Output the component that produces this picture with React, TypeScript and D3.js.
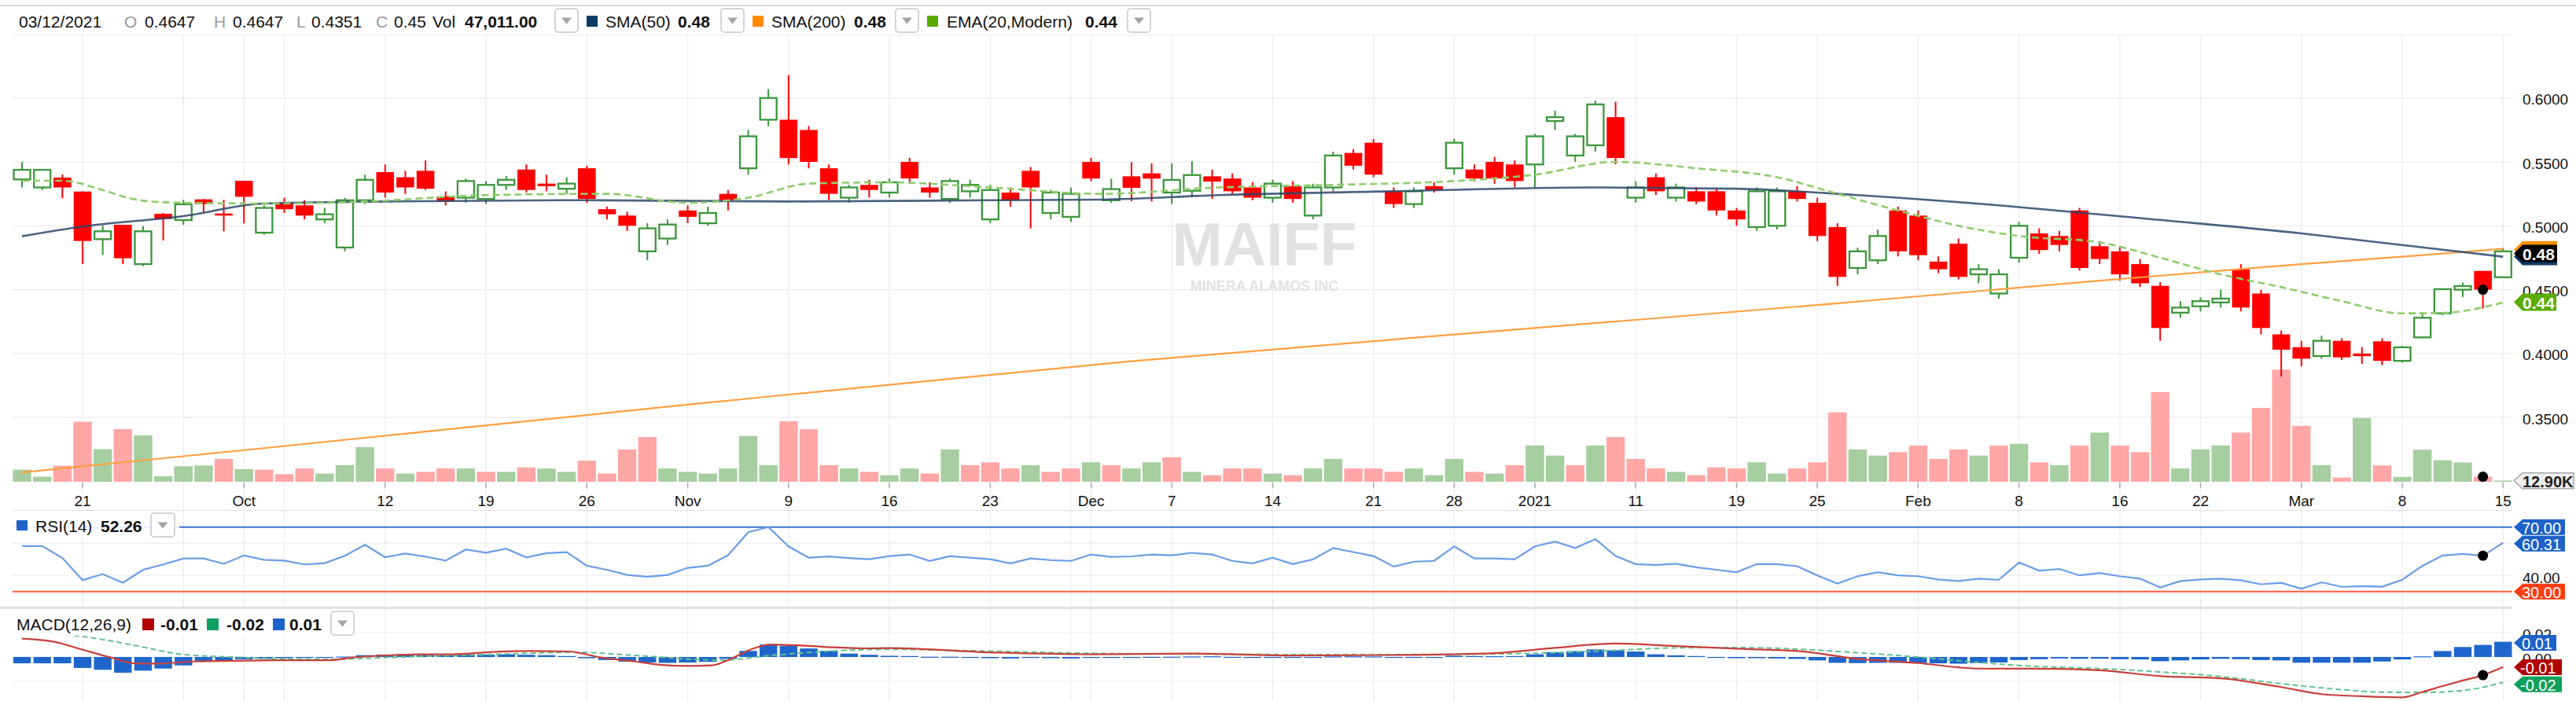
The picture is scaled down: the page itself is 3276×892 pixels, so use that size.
import React from 'react';
import * as d3 from 'd3';

// ---------------- DATA ----------------
// trading-day index: 0 = Sep 21 2020, 120 = Mar 15 2021 (first candle index -3)
const FIRST = -3;

const open = [
  .5363,.530,.5377,.5268,.4895,.5008,.470,.5094,.5045,.5207,.5096,.5352,.4946,
  .518,.516,.505,.483,.520,.542,.538,.543,.523,.522,
  .521,.532,.544,.533,.529,.545,.513,.508,.480,.490,
  .512,.502,.525,.545,.583,.583,.575,.545,.522,.532,
  .526,.550,.530,.521,.527,.505,.526,.543,.510,.507,
  .550,.520,.5387,.541,.526,.5274,.5387,.537,.530,.522,
  .531,.508,.530,.557,.565,.527,.517,.531,.545,.544,
  .550,.548,.548,.582,.555,.563,.585,.522,.538,.522,
  .527,.527,.512,.499,.500,.527,.518,.499,.467,.473,
  .512,.508,.472,.486,.462,.447,.475,.494,.492,.512,
  .484,.480,.470,.453,.432,.437,.440,.466,.447,.415,
  .405,.398,.410,.400,.4096,.3943,.4127,.4315,.450,.4647,.4597];
const high = [
  .550,.5445,.5402,.527,.5004,.5008,.4998,.510,.5203,.521,.5203,.5352,.516,
  .522,.520,.514,.522,.540,.548,.543,.551,.527,.537,
  .535,.539,.548,.540,.538,.547,.515,.511,.502,.505,
  .516,.515,.528,.575,.607,.618,.578,.548,.532,.536,
  .537,.553,.534,.537,.536,.532,.530,.546,.528,.530,
  .553,.537,.5498,.549,.549,.5504,.544,.541,.534,.536,
  .535,.533,.558,.560,.568,.530,.530,.534,.568,.548,
  .554,.551,.572,.590,.572,.598,.597,.535,.541,.533,
  .530,.529,.514,.530,.530,.531,.522,.502,.483,.497,
  .515,.512,.476,.490,.470,.466,.503,.498,.496,.514,
  .488,.484,.474,.456,.441,.444,.450,.470,.450,.418,
  .410,.414,.412,.405,.412,.406,.432,.4504,.4556,.4647,.4827];
const low = [
  .530,.528,.5217,.470,.4772,.470,.4684,.4885,.5008,.5106,.4957,.5018,.493,
  .510,.505,.502,.480,.517,.522,.525,.528,.516,.518,
  .517,.528,.526,.527,.525,.518,.505,.496,.473,.485,
  .502,.500,.512,.540,.578,.548,.545,.520,.518,.522,
  .522,.533,.522,.518,.522,.502,.515,.498,.505,.503,
  .535,.518,.5192,.519,.5172,.5227,.521,.525,.520,.518,
  .518,.505,.527,.544,.538,.514,.514,.526,.540,.535,
  .533,.530,.530,.575,.550,.558,.548,.518,.524,.519,
  .517,.508,.500,.496,.497,.519,.488,.453,.462,.470,
  .476,.473,.463,.458,.455,.443,.471,.478,.480,.465,
  .470,.457,.452,.410,.428,.433,.436,.433,.415,.382,
  .390,.396,.395,.392,.391,.393,.412,.430,.4443,.4351,.4597];
const close = [
  .5438,.5438,.530,.4881,.4957,.4746,.4957,.5053,.5168,.517,.508,.5227,.514,
  .513,.508,.509,.520,.536,.526,.530,.529,.519,.535,
  .532,.536,.528,.531,.533,.521,.509,.500,.498,.501,
  .507,.510,.520,.570,.600,.553,.550,.525,.530,.528,
  .534,.537,.526,.535,.532,.528,.520,.530,.526,.525,
  .537,.5287,.5297,.5369,.5359,.5397,.5346,.527,.522,.533,
  .521,.530,.555,.547,.540,.517,.527,.528,.565,.537,
  .537,.535,.570,.585,.570,.595,.553,.530,.527,.530,
  .519,.512,.505,.527,.527,.521,.492,.460,.480,.492,
  .480,.477,.466,.460,.466,.462,.500,.481,.485,.467,
  .474,.462,.455,.420,.436,.441,.443,.436,.420,.403,
  .396,.410,.397,.398,.3943,.4049,.428,.4504,.4528,.450,.480];

// volume, thousands of shares
const volumeK = [
  110,47,145,537,292,471,415,51,140,147,205,114,110,
  70,120,75,150,310,120,75,90,120,120,
  90,90,130,120,90,190,75,290,400,120,
  90,75,120,410,150,540,470,150,120,90,
  60,120,75,290,150,175,120,150,90,120,
  175,150,120,175,220,90,60,120,120,75,
  60,120,205,120,120,90,120,60,205,90,
  75,150,325,235,150,325,400,205,120,90,
  60,130,120,175,75,120,175,620,290,235,
  265,325,205,290,235,325,340,175,150,325,
  440,325,265,800,120,290,325,440,660,1000,
  500,150,40,570,147,45,287,193,174,47.011,12.9];

const rsi = [
  58.2,58.2,50.8,37.1,40.8,35.5,43.5,46.8,50.5,50.5,47.2,52.4,49.7,
  49.2,46.8,47.6,52.2,59.0,51.3,53.6,51.7,49.2,56.1,
  54.1,56.6,51.2,53.8,54.4,46.0,43.5,40.3,39.2,40.3,
  44.7,46.0,52.5,66.8,70.0,58.0,51.0,51.7,50.8,50.0,
  52,53,49,52,51,50,47.5,50.5,49.5,49,
  53,51.5,51.8,53,52.5,54,53,49,47.5,51,
  47,50,57,54.5,52,45.5,48.5,49,58,50.5,
  50.5,50,58,61,57,62.5,52,47,46.5,47.2,
  45,43.5,42,47,47,45.7,40,35,39.5,42,
  40,39.5,37.5,36.5,38,37.3,48,43,44,40,
  41.5,39.5,38,32.5,36.5,37.5,38,37,34.5,35.4,
  31.8,35.7,32.9,33.3,33.0,37.3,46,52.4,53.3,52.26,60.31];

const macdHist = [
  -.0052,-.0052,-.0052,-.009,-.0105,-.0129,-.0112,-.0095,-.0069,-.0037,-.0026,-.002,-.0015,
  -.001,-.0008,-.0006,.0003,.0015,.002,.0022,.0018,.0015,.0018,
  .002,.0022,.0018,.0015,.0008,-.001,-.0025,-.0038,-.0045,-.0048,
  -.0045,-.004,-.0015,.005,.0103,.0092,.007,.005,.0028,.0018,
  .001,.0008,.0002,.0002,-.0005,-.001,-.0012,-.0008,-.001,-.0012,
  -.0008,-.0005,-.0003,.0001,.0002,.0004,.0006,.0001,-.0003,-.0004,
  -.0008,-.0006,.0004,.0005,.0004,-.0004,-.0002,-.0002,.001,.0008,
  .0007,.0008,.0022,.004,.0048,.0062,.0055,.0045,.0022,.0014,
  .0008,-.0002,-.001,-.001,-.0012,-.0016,-.0028,-.0048,-.005,-.0048,
  -.0048,-.005,-.0052,-.0055,-.005,-.0045,-.0025,-.0018,-.0012,-.0015,
  -.0014,-.0018,-.002,-.0035,-.0028,-.002,-.0015,-.0018,-.0025,-.0028,
  -.0047,-.0047,-.0047,-.0047,-.0037,-.002,.0005,.0049,.0082,.0099,.0125];

// lines as [day index, value]
const macdPts = [[-3,.0151],[-1.4,.0125],[0,.006],[1.4,-.0004],[2.6,-.0052],[3.8,-.0054],[5.5,-.0037],[7.4,-.0032],[9.6,-.0026],[12.3,-.0026],[13.4,-.0004],[15.1,.0013],[16.7,.0022],[18.3,.0022],[20.5,.0043],[22.2,.0049],[24.1,.0045],[25.7,-.0004],[27.4,-.0037],[28.7,-.0065],[30.1,-.0073],[31.2,-.0069],[32,-.0026],[33.1,.006],[34.1,.0103],[35.3,.0097],[36.9,.0082],[38.8,.0071],[40,.0073],[45,.0038],[50,.0022],[55,.0028],[60,.0012],[65,.0016],[70,.0032],[73,.0075],[76,.011],[79,.0089],[82,.0068],[85,.0049],[88,-.0015],[91,-.005],[94,-.0095],[97,-.0096],[100,-.0109],[103,-.0157],[106,-.0175],[109,-.0247],[111,-.0305],[113,-.0322],[115,-.0331],[116,-.0287],[117,-.0239],[118,-.0193],[119,-.0149],[120,-.0083]];
const signalPts = [[-3,.0211],[0,.0168],[2.7,.0092],[4.9,.0022],[7.4,0],[12.3,-.0019],[15.1,-.0004],[20.5,.0022],[24.4,.0039],[27.4,.0013],[31.6,-.0026],[34.4,.0017],[38.8,.006],[40,.0063],[45,.0048],[50,.003],[55,.0024],[60,.002],[65,.002],[70,.0025],[73,.0035],[76,.0055],[79,.0075],[82,.0078],[85,.0065],[88,.0035],[91,0],[94,-.0045],[97,-.0078],[100,-.0095],[103,-.0122],[106,-.016],[109,-.0219],[112,-.0268],[114,-.0289],[116,-.029],[117,-.0288],[118,-.0275],[119,-.0248],[120,-.0208]];
const sma50Pts = [[-3,.4918],[0,.4994],[5,.5076],[9,.5174],[15,.519],[25,.520],[35,.519],[45,.520],[50.5,.5205],[56.3,.524],[65,.527],[75,.530],[82,.529],[88,.524],[95,.516],[102,.506],[110,.494],[115.5,.484],[120,.4758]];
const sma200Pts = [[-3,.307],[9,.326],[30,.360],[52,.394],[72,.420],[86,.438],[100,.457],[110,.470],[116,.477],[120,.482]];
const ema20Pts = [[-3,.5352],[-1,.5352],[1,.528],[2.4,.5213],[4,.5184],[9,.5174],[14,.519],[20,.524],[26,.525],[30,.518],[33,.522],[36,.533],[40,.534],[45,.530],[50.5,.525],[56.3,.530],[62,.532],[68,.535],[72,.540],[76,.550],[80,.545],[84,.538],[87,.525],[90,.512],[93,.500],[96,.492],[100,.487],[103,.475],[106,.462],[109,.452],[112,.441],[115,.4315],[117,.4318],[120,.440]];

const gridIdx = [0,5,8,10,15,20,25,30,35,40,45,49,50,54,59,64,68,72,77,82,86,91,96,101,105,110,115,120];
const labelIdx = [0,8,15,20,25,30,35,40,45,50,54,59,64,68,72,77,82,86,91,96,101,105,110,115,120];
const labelText = ['21','Oct','12','19','26','Nov','9','16','23','Dec','7','14','21','28','2021','11','19','25','Feb','8','16','22','Mar','8','15'];
const priceTicks = [0.35,0.40,0.45,0.50,0.55,0.60];
const rsiGrid = [60,40];
const rsiLabels = [40];
const macdGrid = [0.02,0,-0.02];
const macdLabels = [0.02,0];
const hoverIdx = 119;

// ---------------- LAYOUT ----------------
const W = 3276, H = 892;
const PL = 16, PR = 3195;
const FONT = '"Liberation Sans", Arial, Helvetica, sans-serif';
const GREEN = '#3c963c', RED = '#ff0000';

const x = d3.scaleLinear().domain([0, 120]).range([105, 3183.3]);
const y = d3.scaleLinear().domain([0.5, 0.6]).range([287.3, 124.7]);
const vy = d3.scaleLinear().domain([0, 1000]).range([613.3, 470.4]);
const ry = d3.scaleLinear().domain([30, 70]).range([752.7, 670.7]);
const my = d3.scaleLinear().domain([-0.02, 0.02]).range([867, 805]);

const anchorLine = (ys) => d3.line().x(d => x(d[0])).y(d => ys(d[1])).curve(d3.curveMonotoneX);

function Dropdown({ x0, y0, w = 29, h = 30 }) {
  const cx = x0 + w / 2, cy = y0 + h / 2;
  return (
    <g>
      <rect x={x0} y={y0} width={w} height={h} rx={4} fill="#fff" stroke="#c6c6c6" strokeWidth={1.5} />
      <polygon points={`${cx - 6.5},${cy - 3.5} ${cx + 6.5},${cy - 3.5} ${cx},${cy + 4.5}`} fill="#a3a3a3" />
    </g>
  );
}

function Badge({ cy, x1, h = 22, fill, stroke = 'none', text, color = '#fff', bold = false, fs = 20, tx = 3208 }) {
  const x0 = 3197, tip = 11;
  const pts = `${x0},${cy} ${x0 + tip},${cy - h / 2} ${x1},${cy - h / 2} ${x1},${cy + h / 2} ${x0 + tip},${cy + h / 2}`;
  return (
    <g>
      <polygon points={pts} fill={fill} stroke={stroke} strokeWidth={1.5} />
      {text ? <text x={tx} y={cy + 1} dominantBaseline="central" fontSize={fs} fontWeight={bold ? 'bold' : 'normal'} fill={color}>{text}</text> : null}
    </g>
  );
}

export default function App() {
  const days = close.map((_, k) => k + FIRST);
  const rsiLine = d3.line().x((_, k) => x(k + FIRST)).y(d => ry(d))(rsi);
  const hk = hoverIdx - FIRST;
  const macdAtHover = macdPts.find(p => p[0] === hoverIdx)[1];

  return (
    <div style={{ position: 'absolute', left: 0, top: 0, width: W, height: H, background: '#fff' }}>
      <svg width={W} height={H} style={{ display: 'block', fontFamily: FONT }}>
        <defs>
          <clipPath id="cp"><rect x={PL} y={45} width={PR - PL} height={613.3 - 45} /></clipPath>
          <clipPath id="cr"><rect x={PL} y={650} width={PR - PL} height={123} /></clipPath>
          <clipPath id="cm"><rect x={PL} y={775} width={PR - PL} height={117} /></clipPath>
        </defs>

        {/* header */}
        <line x1={0} x2={W} y1={7} y2={7} stroke="#dadada" strokeWidth={2} />
        <line x1={PL} x2={PR} y1={44.5} y2={44.5} stroke="#ececec" strokeWidth={1} />
        <g fontSize={21} dominantBaseline="central">
          <text x={24} y={27} fill="#111">03/12/2021</text>
          <text x={158} y={27} fill="#9a9a9a">O</text>
          <text x={184} y={27} fill="#111">0.4647</text>
          <text x={272} y={27} fill="#9a9a9a">H</text>
          <text x={296} y={27} fill="#111">0.4647</text>
          <text x={377} y={27} fill="#9a9a9a">L</text>
          <text x={396} y={27} fill="#111">0.4351</text>
          <text x={478} y={27} fill="#9a9a9a">C</text>
          <text x={501} y={27} fill="#111">0.45</text>
          <text x={550} y={27} fill="#111">Vol</text>
          <text x={591} y={27} fill="#111" fontWeight="bold">47,011.00</text>
          <rect x={746} y={20} width={14} height={14} fill="#0f3a64" />
          <text x={770} y={27} fill="#111">SMA(50)</text>
          <text x={862} y={27} fill="#111" fontWeight="bold">0.48</text>
          <rect x={957} y={20} width={14} height={14} fill="#ff8c00" />
          <text x={981} y={27} fill="#111">SMA(200)</text>
          <text x={1086} y={27} fill="#111" fontWeight="bold">0.48</text>
          <rect x={1179} y={20} width={14} height={14} fill="#5aaa00" />
          <text x={1204} y={27} fill="#111">EMA(20,Modern)</text>
          <text x={1380} y={27} fill="#111" fontWeight="bold">0.44</text>
        </g>
        <Dropdown x0={706} y0={11} />
        <Dropdown x0={917} y0={11} />
        <Dropdown x0={1139} y0={11} />
        <Dropdown x0={1434} y0={11} />

        {/* vertical grid */}
        {gridIdx.map(i => (
          <line key={'g' + i} x1={x(i)} x2={x(i)} y1={45} y2={H} stroke="#ececec" strokeWidth={1.2} />
        ))}
        {/* price grid */}
        {priceTicks.map(t => (
          <line key={'p' + t} x1={PL} x2={PR} y1={y(t)} y2={y(t)} stroke="#ececec" strokeWidth={1.2} />
        ))}
        {priceTicks.map(t => (
          <text key={'pl' + t} x={3208} y={y(t) + 2} dominantBaseline="central" fontSize={19} fill="#111">{d3.format('.4f')(t)}</text>
        ))}

        {/* watermark */}
        <text x={1608} y={338} textAnchor="middle" fontSize={77} fontWeight="bold" fill="#e2e2e2">MAIFF</text>
        <text x={1608} y={370} textAnchor="middle" fontSize={18} fontWeight="bold" fill="#e2e2e2">MINERA ALAMOS INC</text>

        <g clipPath="url(#cp)">
          {/* volume */}
          {days.map((i, k) => {
            const up = k === 0 ? close[k] >= open[k] : close[k] >= close[k - 1];
            const top = vy(volumeK[k]);
            return <rect key={'v' + i} x={x(i) - 11.7} y={top} width={23.4} height={613.3 - top} fill={up ? '#a6cea0' : '#ffa6a6'} />;
          })}
          {/* candles */}
          {days.map((i, k) => {
            const o = open[k], c = close[k];
            const bull = c >= o;
            const col = bull ? GREEN : RED;
            const yt = y(Math.max(o, c)), yb = y(Math.min(o, c));
            const cx = x(i);
            return (
              <g key={'c' + i}>
                <line x1={cx} x2={cx} y1={y(high[k])} y2={y(low[k])} stroke={col} strokeWidth={2} />
                {bull
                  ? <rect x={cx - 10.5} y={yt} width={21} height={Math.max(yb - yt, 1)} fill="#fff" stroke={col} strokeWidth={2.3} />
                  : <rect x={cx - 11.3} y={yt} width={22.6} height={Math.max(yb - yt, 2.5)} fill={col} />}
              </g>
            );
          })}
          {/* moving averages */}
          <path d={anchorLine(y)(sma200Pts)} fill="none" stroke="#ffa040" strokeWidth={2.2} />
          <path d={anchorLine(y)(sma50Pts)} fill="none" stroke="#2c486b" strokeOpacity={0.85} strokeWidth={2.6} />
          <path d={anchorLine(y)(ema20Pts)} fill="none" stroke="#8fcd6c" strokeWidth={2.6} strokeDasharray="9 5" />
        </g>

        {/* x axis */}
        {labelIdx.map((i, j) => (
          <g key={'xl' + i}>
            <line x1={x(i)} x2={x(i)} y1={614} y2={621} stroke="#aaa" strokeWidth={1.5} />
            <text x={x(i)} y={637} textAnchor="middle" dominantBaseline="central" fontSize={19} fill="#111">{labelText[j]}</text>
          </g>
        ))}

        {/* RSI panel */}
        <line x1={PL} x2={PR} y1={649.5} y2={649.5} stroke="#e2e2e2" strokeWidth={1.2} />
        {rsiGrid.map(v => (
          <line key={'rg' + v} x1={PL} x2={PR} y1={ry(v)} y2={ry(v)} stroke="#ececec" strokeWidth={1.2} />
        ))}
        <line x1={PL} x2={PR} y1={ry(70)} y2={ry(70)} stroke="#3a72d8" strokeWidth={2} />
        <line x1={PL} x2={PR} y1={ry(30)} y2={ry(30)} stroke="#ff5c40" strokeWidth={2} />
        <g clipPath="url(#cr)">
          <path d={rsiLine} fill="none" stroke="#6b9de6" strokeWidth={2.2} />
        </g>
        {rsiLabels.map(v => (
          <text key={'rl' + v} x={3208} y={ry(v) + 3} dominantBaseline="central" fontSize={19} fill="#111">{d3.format('.2f')(v)}</text>
        ))}
        <rect x={16} y={652} width={212} height={33} fill="#fff" fillOpacity={0.88} />
        <rect x={21} y={662} width={14} height={13} fill="#1c62c8" />
        <text x={45} y={669} dominantBaseline="central" fontSize={21} fill="#111">RSI(14)</text>
        <text x={128} y={669} dominantBaseline="central" fontSize={21} fontWeight="bold" fill="#111">52.26</text>
        <Dropdown x0={192} y0={653} w={30} h={30} />

        {/* MACD panel */}
        <line x1={0} x2={PR} y1={773.5} y2={773.5} stroke="#dcdcdc" strokeWidth={2.5} />
        {macdGrid.map(v => (
          <line key={'mg' + v} x1={PL} x2={PR} y1={my(v)} y2={my(v)} stroke="#ececec" strokeWidth={1.2} />
        ))}
        {macdLabels.map(v => (
          <text key={'ml' + v} x={3208} y={my(v) + 2} dominantBaseline="central" fontSize={19} fill="#111">{d3.format('.2f')(v)}</text>
        ))}
        <g clipPath="url(#cm)">
          {days.map((i, k) => {
            const v = macdHist[k];
            const y0 = my(0), y1 = my(v);
            return <rect key={'h' + i} x={x(i) - 11.2} y={Math.min(y0, y1)} width={22.4} height={Math.max(Math.abs(y1 - y0), 1.2)} fill="#1f66cc" />;
          })}
          <path d={anchorLine(my)(signalPts)} fill="none" stroke="#62c28e" strokeWidth={2} strokeDasharray="7 4" />
          <path d={anchorLine(my)(macdPts)} fill="none" stroke="#c8403a" strokeWidth={2.2} />
        </g>
        <rect x={16} y={777} width={439} height={32} fill="#fff" fillOpacity={0.88} />
        <text x={21} y={794} dominantBaseline="central" fontSize={21} fill="#111">MACD(12,26,9)</text>
        <rect x={181} y={787} width={15} height={15} fill="#b00000" />
        <text x={204} y={794} dominantBaseline="central" fontSize={21} fontWeight="bold" fill="#111">-0.01</text>
        <rect x={263} y={787} width={15} height={15} fill="#10a060" />
        <text x={288} y={794} dominantBaseline="central" fontSize={21} fontWeight="bold" fill="#111">-0.02</text>
        <rect x={347} y={787} width={15} height={15} fill="#1c62c8" />
        <text x={368} y={794} dominantBaseline="central" fontSize={21} fontWeight="bold" fill="#111">0.01</text>
        <Dropdown x0={421} y0={778} w={29} h={30} />

        {/* hover markers */}
        <circle cx={x(hoverIdx)} cy={y(close[hk])} r={6.5} fill="#000" />
        <circle cx={x(hoverIdx)} cy={vy(volumeK[hk])} r={6.5} fill="#000" />
        <circle cx={x(hoverIdx)} cy={ry(rsi[hk])} r={6.5} fill="#000" />
        <circle cx={x(hoverIdx)} cy={my(macdAtHover)} r={6.5} fill="#000" />

        {/* right badges */}
        <Badge cy={317.7} x1={3252} fill="#ff9000" text="" />
        <Badge cy={326.5} x1={3252} fill="#0d3a66" text="" />
        <Badge cy={322.5} x1={3252} fill="#000" text="0.48" bold fs={21} />
        <Badge cy={384.5} x1={3251} fill="#5aac00" text="0.44" bold fs={21} />
        <Badge cy={611.7} x1={3273} h={20} fill="#eeeeee" stroke="#a8a8a8" text="12.90K" color="#222" bold fs={20} />
        <Badge cy={670.7} x1={3262} h={20} fill="#1c62c8" text="70.00" fs={20} tx={3207} />
        <Badge cy={691.7} x1={3262} h={20} fill="#1c62c8" text="60.31" fs={20} tx={3207} />
        <Badge cy={752.7} x1={3262} h={20} fill="#ff3d14" text="30.00" fs={20} tx={3207} />
        <Badge cy={818} x1={3251} h={20} fill="#1c62c8" text="0.01" fs={20} tx={3207} />
        <Badge cy={849} x1={3258} h={20} fill="#b00000" text="-0.01" fs={20} tx={3205} />
        <Badge cy={870.7} x1={3258} h={20} fill="#0fa15a" text="-0.02" fs={20} tx={3205} />
      </svg>
    </div>
  );
}
